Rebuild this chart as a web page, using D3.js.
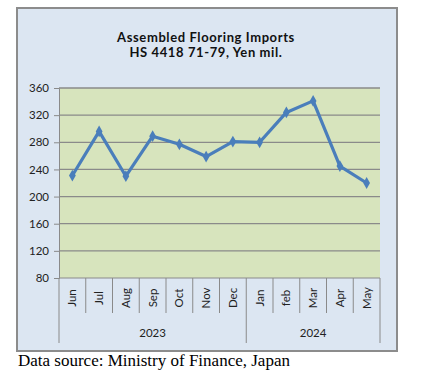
<!DOCTYPE html>
<html>
<head>
<meta charset="utf-8">
<script src="https://cdn.jsdelivr.net/npm/d3@7"></script>
<style>
  body { margin: 0; background: #fff; }
  svg { display: block; }
</style>
</head>
<body>
<div id="chart"></div>
<script>
// data
var months = ["Jun", "Jul", "Aug", "Sep", "Oct", "Nov", "Dec", "Jan", "feb", "Mar", "Apr", "May"];
var years = ["2023", "2023", "2023", "2023", "2023", "2023", "2023", "2024", "2024", "2024", "2024", "2024"];
var imports = [231, 296, 230, 289, 277, 259, 281, 280, 324, 341, 245, 220];
var yTicks = [80, 120, 160, 200, 240, 280, 320, 360];

var W = 439, H = 377;
var margin = {top: 88, right: 59, bottom: 99, left: 59};
var width = W - margin.left - margin.right;
var height = H - margin.top - margin.bottom;

var svg = d3.select("#chart").append("svg").attr("width", W).attr("height", H);

// outer chart frame
svg.append("rect").attr("x", 17).attr("y", 8).attr("width", 380).attr("height", 343)
    .style("fill", "#dce6f2").style("stroke", "#8c8c8c").style("stroke-width", 2);

// title
var title = svg.append("text").attr("x", 206).attr("text-anchor", "middle")
    .style("font-family", "Lato, 'Open Sans', sans-serif").style("font-weight", "bold")
    .style("font-size", "13px").style("letter-spacing", "0.6px").style("fill", "#111");
title.append("tspan").attr("x", 206).attr("y", 42).text("Assembled Flooring Imports");
title.append("tspan").attr("x", 206).attr("y", 57).text("HS 4418 71-79, Yen mil.");

var g = svg.append("g").attr("transform", "translate(" + margin.left + "," + margin.top + ")");

var x = d3.scaleBand().domain(d3.range(months.length)).range([0, width]);
var y = d3.scaleLinear().domain([80, 360]).range([height, 0]);

// plot area
g.append("rect").attr("width", width).attr("height", height).style("fill", "#d7e4bd");

// gridlines
g.selectAll(".grid").data(yTicks.slice(1)).enter().append("line")
    .attr("x1", 0).attr("x2", width)
    .attr("y1", function (d) { return y(d); }).attr("y2", function (d) { return y(d); })
    .style("stroke", "#8a8a8a").style("stroke-width", 1.3);

// y axis
var yAxis = g.append("g").call(d3.axisLeft(y).tickValues(yTicks).tickSize(5).tickPadding(5));
yAxis.select(".domain").style("stroke", "#8a8a8a");
yAxis.selectAll(".tick line").style("stroke", "#8a8a8a");
yAxis.selectAll("text").style("font-family", "Lato, 'Open Sans', sans-serif")
    .style("font-size", "11.5px").style("fill", "#222");

// bottom axis line
g.append("line").attr("x1", 0).attr("x2", width).attr("y1", height).attr("y2", height)
    .style("stroke", "#8a8a8a");

// month separators, longer ones where the year changes
var sep = d3.range(months.length + 1);
g.selectAll(".msep").data(sep).enter().append("line")
    .attr("x1", function (i) { return i * x.bandwidth(); })
    .attr("x2", function (i) { return i * x.bandwidth(); })
    .attr("y1", height)
    .attr("y2", function (i) {
        return (i === 0 || i === months.length || years[i] !== years[i - 1]) ? height + 65 : height + 35;
    })
    .style("stroke", "#8a8a8a");

// month labels
g.selectAll(".mlab").data(months).enter().append("text")
    .attr("transform", function (d, i) {
        return "translate(" + (x(i) + x.bandwidth() / 2 + 4) + "," + (height + 20) + ") rotate(-90)";
    })
    .attr("text-anchor", "middle")
    .style("font-family", "Lato, 'Open Sans', sans-serif").style("font-size", "11.5px").style("fill", "#222")
    .text(function (d) { return d; });

// year labels
var yearGroups = d3.groups(d3.range(months.length), function (i) { return years[i]; });
g.selectAll(".ylab").data(yearGroups).enter().append("text")
    .attr("x", function (d) {
        var idx = d[1];
        return (x(idx[0]) + x(idx[idx.length - 1]) + x.bandwidth()) / 2;
    })
    .attr("y", height + 59)
    .attr("text-anchor", "middle")
    .style("font-family", "Lato, 'Open Sans', sans-serif").style("font-size", "11.5px").style("fill", "#222")
    .text(function (d) { return d[0]; });

// line
var line = d3.line()
    .x(function (d, i) { return x(i) + x.bandwidth() / 2; })
    .y(function (d) { return y(d); });

g.append("path").datum(imports).attr("d", line)
    .style("fill", "none").style("stroke", "#4a7ebb").style("stroke-width", 3.2)
    .style("stroke-linejoin", "round");

g.selectAll(".pt").data(imports).enter().append("path")
    .attr("d", d3.symbol().type(d3.symbolDiamond).size(40))
    .attr("transform", function (d, i) {
        return "translate(" + (x(i) + x.bandwidth() / 2) + "," + y(d) + ")";
    })
    .style("fill", "#4a7ebb");

// source note
svg.append("text").attr("x", 18).attr("y", 366)
    .style("font-family", "'Liberation Serif', 'Times New Roman', serif").style("font-size", "17px")
    .style("fill", "#000")
    .text("Data source: Ministry of Finance, Japan");
</script>
</body>
</html>
